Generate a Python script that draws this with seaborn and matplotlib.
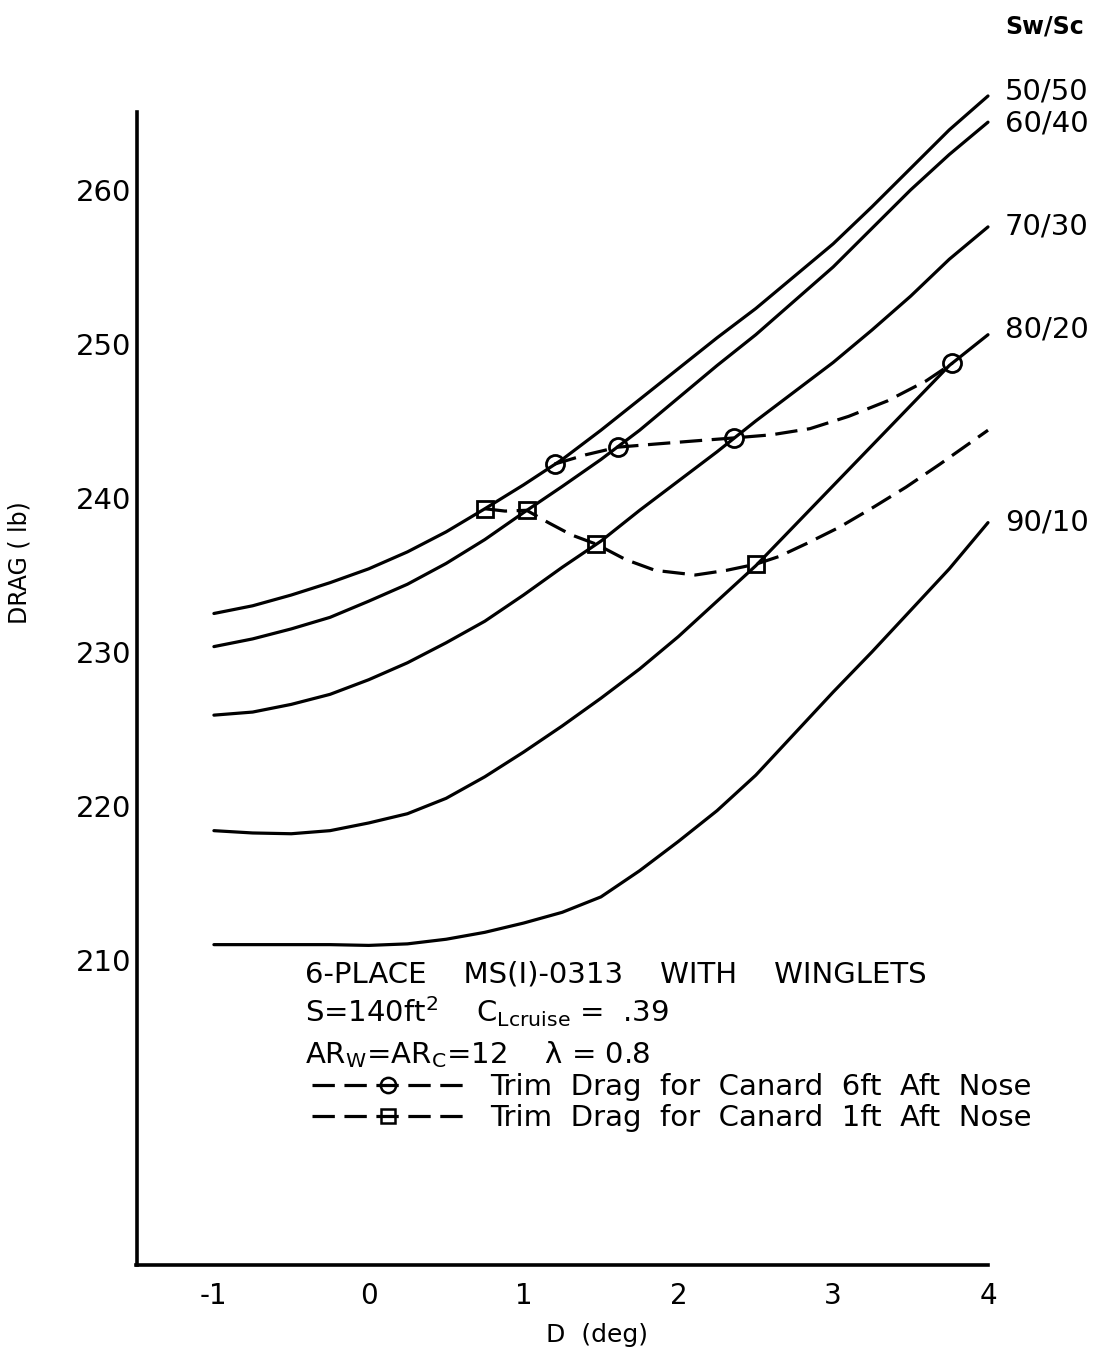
import numpy as np
import pandas as pd
import matplotlib
matplotlib.use("Agg")
import matplotlib.pyplot as plt
from matplotlib.lines import Line2D
import seaborn as sns

# Elevator deflection grid (deg) on which the drag curves are tabulated
deflection = [-1.0, -0.75, -0.5, -0.25, 0.0, 0.25, 0.5, 0.75, 1.0, 1.25, 1.5,
              1.75, 2.0, 2.25, 2.5, 2.75, 3.0, 3.25, 3.5, 3.75, 4.0]

# Drag (lb) for each wing/canard area split Sw/Sc
drag_50_50 = [232.5, 233.0, 233.7, 234.5, 235.4, 236.5, 237.8, 239.3, 240.85, 242.5, 244.4,
              246.4, 248.4, 250.4, 252.3, 254.4, 256.5, 258.9, 261.4, 263.9, 266.1]
drag_60_40 = [230.35, 230.85, 231.5, 232.25, 233.3, 234.4, 235.75, 237.3, 239.05, 240.75, 242.5,
              244.4, 246.5, 248.6, 250.6, 252.8, 255.0, 257.5, 260.0, 262.3, 264.4]
drag_70_30 = [225.9, 226.1, 226.6, 227.25, 228.2, 229.3, 230.6, 232.0, 233.7, 235.5, 237.2,
              239.2, 241.1, 243.0, 245.0, 246.9, 248.8, 250.9, 253.1, 255.5, 257.6]
drag_80_20 = [218.4, 218.25, 218.2, 218.4, 218.9, 219.5, 220.5, 221.9, 223.5, 225.2, 227.0,
              228.9, 231.0, 233.3, 235.6, 238.2, 240.8, 243.4, 246.0, 248.6, 250.6]
drag_90_10 = [211.0, 211.0, 211.0, 211.0, 210.95, 211.05, 211.35, 211.8, 212.4, 213.1, 214.1,
              215.8, 217.7, 219.7, 222.0, 224.7, 227.4, 230.0, 232.7, 235.4, 238.4]
split_labels = ["50/50", "60/40", "70/30", "80/20", "90/10"]

# Trim drag, canard 6 ft aft of nose (circles)
trim6_path_d = [1.20, 1.40, 1.61, 1.85, 2.10, 2.36, 2.60, 2.85, 3.10, 3.35, 3.60, 3.77]
trim6_path_drag = [242.2, 242.8, 243.3, 243.5, 243.7, 243.9, 244.1, 244.5, 245.3, 246.3, 247.6, 248.75]
trim6_pts_d = [1.20, 1.61, 2.36, 3.77]
trim6_pts_drag = [242.2, 243.3, 243.9, 248.75]

# Trim drag, canard 1 ft aft of nose (squares)
trim1_path_d = [0.75, 0.88, 1.02, 1.16, 1.31, 1.47, 1.66, 1.85, 2.11, 2.31, 2.50, 2.65,
                2.83, 3.04, 3.26, 3.47, 3.69, 4.0]
trim1_path_drag = [239.3, 239.15, 239.2, 238.4, 237.6, 237.0, 236.0, 235.3, 235.0, 235.3,
                   235.7, 236.2, 237.05, 238.1, 239.4, 240.7, 242.2, 244.4]
trim1_pts_d = [0.75, 1.02, 1.47, 2.50]
trim1_pts_drag = [239.3, 239.2, 237.0, 235.7]

x_ticks = [-1, 0, 1, 2, 3, 4]
y_ticks = [210, 220, 230, 240, 250, 260]

curves = pd.DataFrame({
    "D": deflection * 5,
    "drag": drag_50_50 + drag_60_40 + drag_70_30 + drag_80_20 + drag_90_10,
    "split": [s for s in split_labels for _ in deflection],
})
trim6 = pd.DataFrame({"D": trim6_path_d, "drag": trim6_path_drag})
trim1 = pd.DataFrame({"D": trim1_path_d, "drag": trim1_path_drag})

sns.set_style("white")
plt.rcParams["font.family"] = ["DejaVu Sans"]
plt.rcParams["mathtext.fontset"] = "dejavusans"
plt.rcParams["text.color"] = "black"
plt.rcParams["axes.labelcolor"] = "black"

W, H = 1107, 1359
fig = plt.figure(figsize=(W / 100, H / 100), dpi=100)
ax = fig.add_axes([136.5 / W, 1 - 1265 / H, 851.5 / W, (1265 - 112) / H])

dash = (7, 3)
lw = 2.3

sns.lineplot(data=curves, x="D", y="drag", hue="split", palette=["black"] * 5,
             estimator=None, sort=True, lw=lw, legend=False, ax=ax)
sns.lineplot(data=trim6, x="D", y="drag", color="black", lw=lw, estimator=None,
             sort=True, ax=ax)
sns.lineplot(data=trim1, x="D", y="drag", color="black", lw=lw, estimator=None,
             sort=True, ax=ax)
for ln in ax.lines[5:7]:
    ln.set_dashes(dash)
for ln in ax.lines:
    ln.set_clip_on(False)
    ln.set_solid_capstyle("round")
    ln.set_solid_joinstyle("round")

ax.plot(trim6_pts_d, trim6_pts_drag, ls="none", marker="o", ms=13, mfc="none",
        mec="black", mew=2.0, clip_on=False)
ax.plot(trim1_pts_d, trim1_pts_drag, ls="none", marker="s", ms=12, mfc="none",
        mec="black", mew=2.0, clip_on=False)

ax.set_xlim(-1.5, 4.0)
ax.set_ylim(190.2, 265.06)
ax.set_xticks(x_ticks)
ax.set_yticks(y_ticks)
ax.set_xticklabels([str(v) for v in x_ticks])
ax.set_yticklabels([str(v) for v in y_ticks])
sns.despine(ax=ax)
for side in ("left", "bottom"):
    ax.spines[side].set_linewidth(2.6)
    ax.spines[side].set_color("black")
ax.tick_params(axis="x", direction="in", length=11, width=2.3, pad=12, labelsize=20, colors="black")
ax.tick_params(axis="y", direction="in", length=9, width=2.3, pad=4, labelsize=21, colors="black")

ax.set_xlabel("D  (deg)", fontsize=18)
ax.set_ylabel("DRAG ( lb)", fontsize=17)
ax.xaxis.set_label_coords((597 - 136.5) / 851.5, -(1335 - 1265) / 1153)
ax.yaxis.set_label_coords(-(136.5 - 19) / 851.5, (1265 - 563) / 1153)
ax.xaxis.label.set_va("center")
ax.yaxis.label.set_va("center")

# Curve labels at the right-hand ends
ends = [drag_50_50[-1], drag_60_40[-1], drag_70_30[-1], drag_80_20[-1], drag_90_10[-1]]
offsets = [3, -1, 0, 4, 0]
for lab, yv, dy in zip(split_labels, ends, offsets):
    ax.annotate(lab, xy=(deflection[-1], yv), xytext=(12, dy), textcoords="offset points",
                ha="left", va="center", fontsize=21, annotation_clip=False)
fig.text(1005 / W, 1 - 27 / H, "Sw/Sc", fontsize=17, fontweight="bold", va="center", ha="left")

# Configuration notes
fs = 21
fig.text(305 / W, 1 - 975 / H, "6-PLACE    MS(I)-0313    WITH    WINGLETS", fontsize=fs, va="center")
fig.text(305 / W, 1 - 1012 / H, r"S=140ft$^{2}$    C$_{\mathregular{Lcruise}}$ =  .39",
         fontsize=fs, va="center")
fig.text(305 / W, 1 - 1055 / H, "AR$_{\\mathregular{W}}$=AR$_{\\mathregular{C}}$=12    λ = 0.8",
         fontsize=fs, va="center")

handles = [
    Line2D([], [], color="black", lw=lw, dashes=dash, marker="o", ms=11, mfc="none", mew=1.8),
    Line2D([], [], color="black", lw=lw, dashes=dash, marker="s", ms=10, mfc="none", mew=1.8),
]
fig.legend(handles, ["Trim  Drag  for  Canard  6ft  Aft  Nose", "Trim  Drag  for  Canard  1ft  Aft  Nose"],
           loc="upper left", bbox_to_anchor=(312 / W, 1 - 1073 / H), frameon=False,
           fontsize=fs, handlelength=5.2, handletextpad=0.9, labelspacing=0.1,
           borderpad=0, borderaxespad=0, numpoints=1)

fig.savefig("out.png", dpi=100, facecolor="white")
